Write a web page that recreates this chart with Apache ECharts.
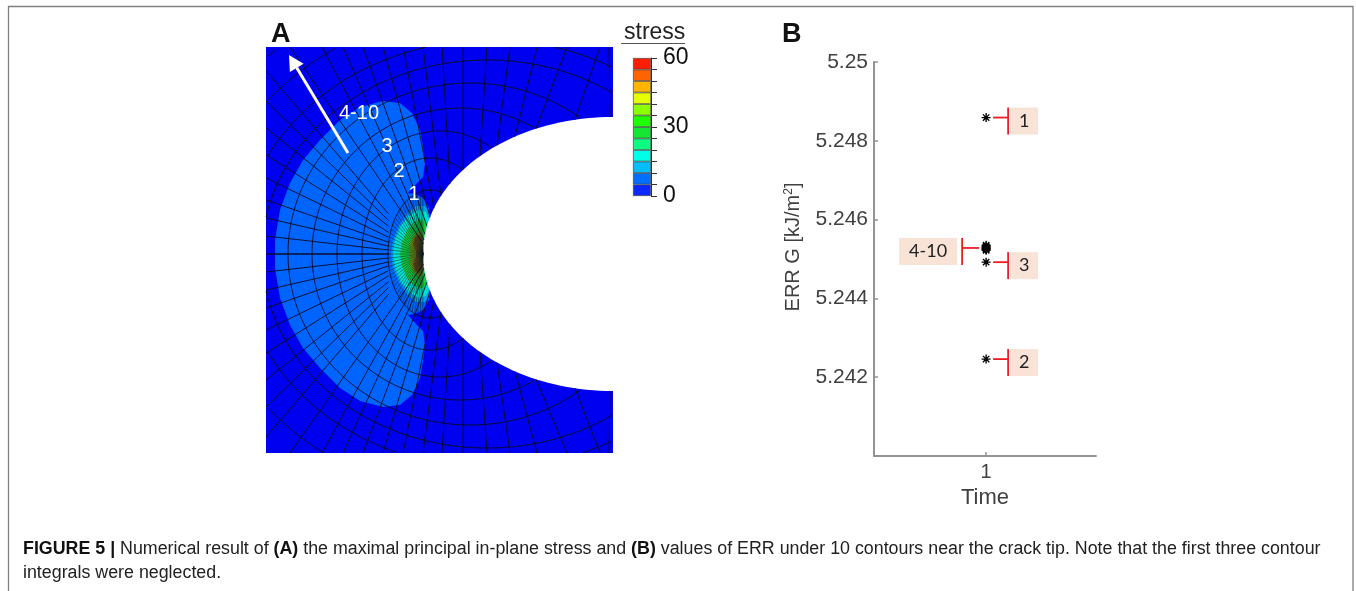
<!DOCTYPE html>
<html lang="en">
<head>
	<meta charset="UTF-8">
	<title>Figure 5</title>
	<script src="https://cdn.jsdelivr.net/npm/echarts@6/dist/echarts.min.js"></script>
	<style>
		html,body{height:100%;margin:0;background:#fff;}
	</style>
</head>
<body>
	<div id="chart" style="width:1356px;height:591px;"></div>
	<script>
	// panel A: mesh geometry, tip of the crack is (0,0)
	var notchA = 190, notchB = 137;
	var arcCx = [7, 7, 17, 37, 47, 64, 67, 67, 67];
	var arcA = [42, 68, 103, 148, 182, 225, 250, 285, 320];
	var arcB = [64, 96, 123, 146, 171, 194, 214, 245, 275];
	// radial lines going to top edge: where they leave the notch and where they hit the top
	var topStartX = [187, 152, 113, 92, 74, 57, 40, 27, 18, 11, 7, 4, 2, 1, 0.5];
	var topEndX = [186, 177, 144, 114, 87, 64, 40, 19, 0, -20, -40, -60, -80, -101, -133];
	// radial lines going to left edge
	var leftEndY = [183, 153, 126, 99, 76, 54, 36, 18, 0];
	var tipFanCount = 42;
	// stress bands, upper half (mirrored on y=0), weakest first
	var bandColors = ['#0064ff', '#00a0f0', '#00e0d0', '#14c840', '#6f9a10', '#7a4a10'];
	var bandOutlines = [
		[[-148,0],[-148,14],[-143,44],[-133,71],[-120,94],[-103,114],[-83,134],[-63,147],[-40,153],[-23,151],[-11,141],[-3,124],[0,107],[2,91],[0,77],[-6,71],[-15,61],[-8,60],[0,56],[6,46],[7,34],[3,19],[0,0]],
		[[-32,0],[-30,14],[-24,28],[-16,40],[-7,48],[2,48],[7,40],[6,30],[2,14],[0,0]],
		[[-30,0],[-28,14],[-22,28],[-14,38],[-5,44],[3,42],[6,34],[4,22],[2,12],[0,0]],
		[[-23,0],[-21,12],[-16,24],[-9,32],[-3,35],[3,32],[4,24],[2,12],[0,0]],
		[[-14,0],[-14,8],[-11,16],[-6,22],[-2,23],[1,18],[1,8],[0,0]],
		[[-7,3],[-10,10],[-8,17],[-4,19],[-1,15],[0,6],[0,0]]
	];
	var arrowTail = [-75, 101], arrowTip = [-134, 199];
	var contourLabels = ['4-10', '3', '2', '1'];
	var contourLabelPos = [[-64, 141], [-36, 108], [-24, 83], [-9, 60]];

	// colour bar, 0 to 60 in steps of 5, bottom band first
	var barStep = 5;
	var barColors = ['#0a28ff','#006eff','#00beff','#00ffe6','#0cff82','#14e632','#1eff00','#8cff00','#e6ff00','#ffb400','#ff6400','#ff1e00'];

	// panel B
	var contourNames = ['1','2','3','4','5','6','7','8','9','10'];
	var errValues = [5.24859, 5.24246, 5.24492, 5.24535, 5.24530, 5.24526, 5.24522, 5.24528, 5.24532, 5.24524];
	var calloutLabels = ['1', '3', '2', '4-10'];
	var calloutValues = [5.24859, 5.24492, 5.24246, 5.24528];
	var yTicks = [5.242, 5.244, 5.246, 5.248, 5.25];

	function notchY(x) {
		var d = (notchA - x) / notchA;
		return notchB * Math.sqrt(Math.max(0, 1 - d * d));
	}
	function inBody(x, y) {
		if (x < -157 || x > 190 || y > 207 || y < -199) return false;
		var dx = (x - notchA) / notchA, dy = y / notchB;
		return dx * dx + dy * dy > 1;
	}

	var meshLines = [];
	for (var i = 0; i < arcCx.length; i++) {
		var seg = [];
		for (var k = 0; k <= 360; k++) {
			var t = k * Math.PI / 180;
			var px = arcCx[i] + arcA[i] * Math.cos(t), py = arcB[i] * Math.sin(t);
			if (inBody(px, py)) {
				seg.push([px, py]);
			} else {
				if (seg.length > 1) meshLines.push(seg);
				seg = [];
			}
		}
		if (seg.length > 1) meshLines.push(seg);
	}
	for (var i = 0; i < topStartX.length; i++) {
		var sy = notchY(topStartX[i]);
		meshLines.push([[topStartX[i], sy], [topEndX[i], 207]]);
		meshLines.push([[topStartX[i], -sy], [topEndX[i], -199]]);
	}
	// left lines stop at the first contour, inside it the fine fan takes over
	for (var i = 0; i < leftEndY.length; i++) {
		meshLines.push([[-157 * 0.22, leftEndY[i] * 0.22], [-157, leftEndY[i]]]);
		meshLines.push([[-157 * 0.22, -leftEndY[i] * 0.22], [-157, -leftEndY[i]]]);
	}
	var fanLines = [];
	for (var i = 0; i <= tipFanCount; i++) {
		var t = (100 + 160 * i / tipFanCount) * Math.PI / 180;
		fanLines.push([[0, 0], [arcCx[0] + arcA[0] * Math.cos(t), arcB[0] * Math.sin(t)]]);
	}

	function mirror(pts) {
		var out = pts.slice();
		for (var i = pts.length - 1; i >= 0; i--) out.push([pts[i][0], -pts[i][1]]);
		return out;
	}
	var notchShape = [];
	for (var k = -90; k <= 90; k += 2) {
		var a = k * Math.PI / 180;
		notchShape.push([notchA - notchA * Math.cos(a), notchB * Math.sin(a)]);
	}

	var fills = [{pts: [[-157,207],[190,207],[190,-199],[-157,-199]], color: '#0000f0'}];
	for (var i = 0; i < bandOutlines.length; i++) {
		fills.push({pts: mirror(bandOutlines[i]), color: bandColors[i]});
	}
	fills.push({pts: notchShape, color: '#fff'});

	// eight armed asterisk for the ERR points
	function starPath() {
		var d = '';
		for (var i = 0; i < 4; i++) {
			var a = i * Math.PI / 4, c = Math.cos(a), s = Math.sin(a), w = 1.5;
			var pts = [[-10 * c - w * s, -10 * s + w * c], [10 * c - w * s, 10 * s + w * c], [10 * c + w * s, 10 * s - w * c], [-10 * c + w * s, -10 * s - w * c]];
			d += 'M' + pts.map(function (p) { return (p[0] + 10).toFixed(2) + ' ' + (p[1] + 10).toFixed(2); }).join('L') + 'Z';
		}
		return 'path://' + d;
	}

	var idx = function (arr) { return arr.map(function (d, i) { return [i]; }); };
	var axisGray = '#939393', textGray = '#404040';

	function polylineRender(list, color, width) {
		return function (params, api) {
			var pts = list[api.value(0)];
			return {type: 'polyline', shape: {points: pts.map(function (p) { return api.coord(p); })}, style: {stroke: color, fill: null, lineWidth: width}};
		};
	}

	var barSeries = barColors.map(function (c) {
		return {
			type: 'bar', stack: 'bar', xAxisIndex: 1, yAxisIndex: 1, barWidth: '100%', silent: true,
			data: [barStep],
			itemStyle: {color: c, borderColor: '#444', borderWidth: 0.7}
		};
	});

	var option = {
		animation: false,
		backgroundColor: '#fff',
		textStyle: {fontFamily: 'Liberation Sans'},
		grid: [
			{left: 266, top: 47, width: 347, height: 406},
			{left: 633, top: 58, width: 18, height: 138},
			{left: 874, top: 62, width: 222, height: 394}
		],
		xAxis: [
			{gridIndex: 0, type: 'value', min: -157, max: 190, show: false},
			{gridIndex: 1, type: 'category', data: ['stress'], show: false},
			{
				gridIndex: 2, type: 'value', min: 0, max: 1.98, splitLine: {show: false},
				name: 'Time', nameLocation: 'middle', nameGap: 28,
				nameTextStyle: {fontSize: 22, color: textGray},
				axisLine: {onZero: false, lineStyle: {color: axisGray, width: 2}},
				axisTick: {inside: true, length: 4, customValues: [1], lineStyle: {color: axisGray, width: 1.5}},
				axisLabel: {fontSize: 20, color: textGray, margin: 6, customValues: [1]}
			}
		],
		yAxis: [
			{gridIndex: 0, type: 'value', min: -199, max: 207, show: false},
			{
				gridIndex: 1, type: 'value', min: 0, max: 60, interval: barStep, position: 'right',
				splitLine: {show: false},
				axisLine: {show: true, lineStyle: {color: '#333', width: 1}},
				axisTick: {show: true, length: 6, lineStyle: {color: '#333', width: 1}},
				axisLabel: {
					fontSize: 23, color: '#111', margin: 12,
					formatter: function (v) { return v % 30 === 0 ? v : ''; }
				}
			},
			{
				gridIndex: 2, type: 'value', min: 5.24, max: 5.25, interval: 0.002, splitLine: {show: false},
				name: 'ERR G [kJ/m{s|2}]', nameLocation: 'middle', nameGap: 71,
				nameTextStyle: {
					fontSize: 20, color: textGray, padding: [0, 0, 0, 24],
					rich: {s: {fontSize: 12, color: textGray, verticalAlign: 'top', padding: [0, 0, 8, 0]}}
				},
				axisLine: {show: true, lineStyle: {color: axisGray, width: 2}},
				axisTick: {show: true, inside: true, length: 4, lineStyle: {color: axisGray, width: 1.5}},
				axisLabel: {
					fontSize: 21, color: textGray, margin: 6,
					formatter: function (v) { return yTicks.indexOf(+v.toFixed(3)) >= 0 ? String(+v.toFixed(3)) : ''; }
				}
			}
		],
		series: [
			{
				type: 'custom', xAxisIndex: 0, yAxisIndex: 0, silent: true, data: idx(fills), z: 1,
				renderItem: function (params, api) {
					var f = fills[api.value(0)];
					return {type: 'polygon', shape: {points: f.pts.map(function (p) { return api.coord(p); })}, style: {fill: f.color}};
				}
			},
			{
				type: 'custom', xAxisIndex: 0, yAxisIndex: 0, silent: true, data: idx(fanLines), z: 2,
				renderItem: polylineRender(fanLines, '#0a2020', 0.5)
			},
			{
				type: 'custom', xAxisIndex: 0, yAxisIndex: 0, silent: true, data: idx(meshLines), z: 2,
				renderItem: polylineRender(meshLines, '#0a0a1e', 0.9)
			},
			{
				// arrow of increasing contour number
				type: 'custom', xAxisIndex: 0, yAxisIndex: 0, silent: true, data: [[0]], z: 3,
				renderItem: function (params, api) {
					var a = api.coord(arrowTail), b = api.coord(arrowTip);
					var ang = Math.atan2(b[1] - a[1], b[0] - a[0]);
					var c = Math.cos(ang), s = Math.sin(ang);
					var base = [b[0] - 15 * c, b[1] - 15 * s];
					return {type: 'group', children: [
						{type: 'line', shape: {x1: a[0], y1: a[1], x2: base[0], y2: base[1]}, style: {stroke: '#fff', lineWidth: 3}},
						{type: 'polygon', shape: {points: [b, [base[0] - 8 * s, base[1] + 8 * c], [base[0] + 8 * s, base[1] - 8 * c]]}, style: {fill: '#fff'}}
					]};
				}
			},
			{
				type: 'custom', xAxisIndex: 0, yAxisIndex: 0, silent: true, data: idx(contourLabels), z: 4,
				renderItem: function (params, api) {
					var i = api.value(0), p = api.coord(contourLabelPos[i]);
					return {type: 'text', x: p[0], y: p[1], style: {text: contourLabels[i], fill: '#fff', fontSize: 20, fontFamily: 'Liberation Sans', align: 'center', verticalAlign: 'middle'}};
				}
			}
		].concat(barSeries).concat([
			{
				type: 'scatter', xAxisIndex: 2, yAxisIndex: 2, silent: true, z: 5,
				symbol: starPath(),
				symbolSize: 9,
				itemStyle: {color: '#000', opacity: 1},
				data: errValues.map(function (v, i) { return {name: contourNames[i], value: [1, v]}; })
			},
			{
				// red brackets with the contour number boxes
				type: 'custom', xAxisIndex: 2, yAxisIndex: 2, silent: true, z: 6, data: idx(calloutLabels),
				renderItem: function (params, api) {
					var i = api.value(0), p = api.coord([1, calloutValues[i]]);
					var left = calloutLabels[i] === '4-10';
					var barX = left ? p[0] - 24 : p[0] + 22;
					var hEnd = left ? p[0] - 7 : p[0] + 7;
					var boxX = left ? barX - 63 : barX + 2;
					var boxW = left ? 58 : 28;
					return {type: 'group', children: [
						{type: 'rect', shape: {x: boxX, y: p[1] - 10, width: boxW, height: 27}, style: {fill: '#f9e2d6'}},
						{type: 'line', shape: {x1: hEnd, y1: p[1], x2: barX, y2: p[1]}, style: {stroke: '#f01c25', lineWidth: 1.8}},
						{type: 'line', shape: {x1: barX, y1: p[1] - 10, x2: barX, y2: p[1] + 17}, style: {stroke: '#f01c25', lineWidth: 1.8}},
						{type: 'text', x: boxX + boxW / 2, y: p[1] + 3.5, style: {text: calloutLabels[i], fill: '#222', fontSize: 18, fontFamily: 'Lato', align: 'center', verticalAlign: 'middle'}}
					]};
				}
			}
		]),
		graphic: [
			{type: 'polyline', shape: {points: [[8.5, 591], [8.5, 6.5], [1353, 6.5], [1353, 591]]}, style: {stroke: '#808080', fill: null, lineWidth: 1.3}},
			{type: 'text', x: 271, y: 21, style: {text: 'A', fontSize: 27, fontWeight: 'bold', fontFamily: 'Liberation Sans', fill: '#111'}},
			{type: 'text', x: 782, y: 21, style: {text: 'B', fontSize: 27, fontWeight: 'bold', fontFamily: 'Liberation Sans', fill: '#111'}},
			{type: 'text', x: 624, y: 21, style: {text: 'stress', fontSize: 23, fontFamily: 'Liberation Sans', fill: '#222'}},
			{type: 'line', shape: {x1: 621, y1: 43.5, x2: 685, y2: 43.5}, style: {stroke: '#555', lineWidth: 1}},
			{
				type: 'text', x: 23, y: 540, scaleX: 0.99,
				style: {
					text: '{b|FIGURE 5 |} Numerical result of {b|(A)} the maximal principal in-plane stress and {b|(B)} values of ERR under 10 contours near the crack tip. Note that the first three contour',
					fontSize: 18, fontFamily: 'Liberation Sans', fill: '#222',
					rich: {b: {fontWeight: 'bold', fontSize: 18, fontFamily: 'Liberation Sans', fill: '#111'}}
				}
			},
			{
				type: 'text', x: 23, y: 564, scaleX: 0.99,
				style: {text: 'integrals were neglected.', fontSize: 18, fontFamily: 'Liberation Sans', fill: '#222'}
			}
		]
	};

	var myChart = echarts.init(document.getElementById('chart'));
	myChart.setOption(option);
	</script>
</body>
</html>
